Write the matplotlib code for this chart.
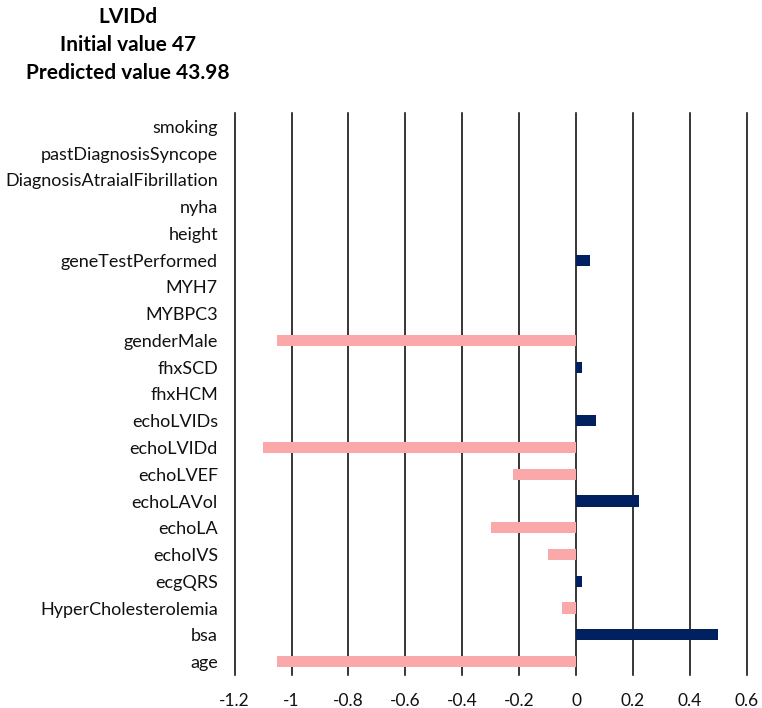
import matplotlib
matplotlib.use("Agg")
import matplotlib.pyplot as plt

plt.rcParams['font.family'] = ['Lato', 'DejaVu Sans']

features = ["smoking", "pastDiagnosisSyncope", "DiagnosisAtraialFibrillation", "nyha",
            "height", "geneTestPerformed", "MYH7", "MYBPC3", "genderMale", "fhxSCD",
            "fhxHCM", "echoLVIDs", "echoLVIDd", "echoLVEF", "echoLAVol", "echoLA",
            "echoIVS", "ecgQRS", "HyperCholesterolemia", "bsa", "age"]
values = [0, 0, 0, 0, 0, 0.05, 0, 0, -1.05, 0.02, 0, 0.07, -1.1, -0.22, 0.22, -0.3,
          -0.1, 0.02, -0.05, 0.5, -1.05]
xticks = [-1.2, -1, -0.8, -0.6, -0.4, -0.2, 0, 0.2, 0.4, 0.6]
xticklabels = ["-1.2", "-1", "-0.8", "-0.6", "-0.4", "-0.2", "0", "0.2", "0.4", "0.6"]
title_lines = ["LVIDd", "Initial value 47", "Predicted value 43.98"]

fig = plt.figure(figsize=(7.62, 7.08), dpi=100)
ax = fig.add_axes([234.6 / 762, 1 - 675 / 708, (746.8 - 234.6) / 762, (675 - 113) / 708])

n = len(features)
ypos = list(range(n))
colors = ["#002060" if v > 0 else "#FBA8AA" for v in values]
ax.barh(ypos, values, height=0.42, color=colors, zorder=3)

ax.set_ylim(n - 0.5, -0.5)
ax.set_xlim(-1.2, 0.6)
ax.set_xticks(xticks)
ax.set_xticklabels(xticklabels, fontsize=12.5, color="#111111")
ax.set_yticks(ypos)
ax.set_yticklabels(features, fontsize=13, color="#111111")
ax.tick_params(axis='both', length=0)
ax.tick_params(axis='x', pad=13)
ax.tick_params(axis='y', pad=12)
for s in ax.spines.values():
    s.set_visible(False)
for xv in xticks:
    ax.axvline(xv, color="black", linewidth=1.1, zorder=1, clip_on=False)

ys = [17, 45, 73]
for t, y in zip(title_lines, ys):
    fig.text(128 / 762, 1 - y / 708, t, ha="center", va="center", fontsize=15,
             fontweight="bold", color="black")

fig.savefig("out.png", dpi=100)
